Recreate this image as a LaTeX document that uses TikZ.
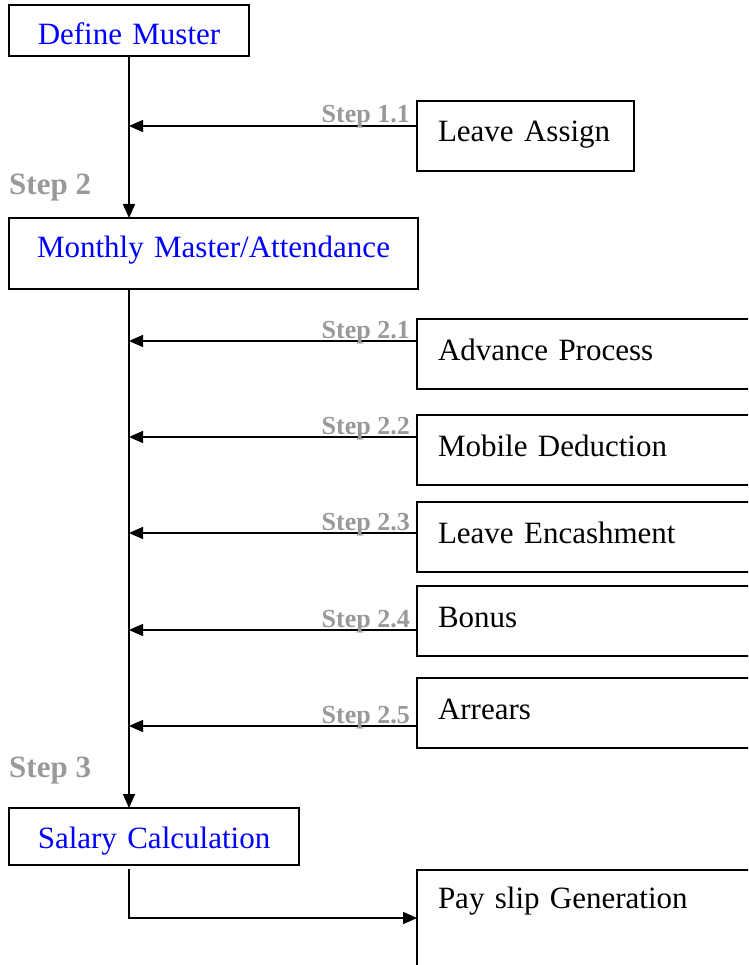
\documentclass[tikz,border=0pt]{standalone}
\usepackage{fontspec}
\setmainfont{Liberation Serif}
\usepackage{xcolor}
\usetikzlibrary{arrows.meta,positioning}
\definecolor{stepgray}{RGB}{153,153,153}
\definecolor{boxblue}{RGB}{0,0,255}

\tikzset{
  mainbox/.style={draw, line width=1.8pt, inner sep=0pt, outer sep=0pt, anchor=north west,
    text=boxblue, font=\fontsize{31}{36}\selectfont, text height=40pt, align=center},
  sidebox/.style={draw, line width=1.8pt, inner xsep=21pt, inner ysep=0pt, outer sep=0pt, anchor=north west,
    font=\fontsize{31}{36}\selectfont, text height=41pt, text depth=29pt, align=left},
  flow/.style={line width=1.6pt, -{Triangle[length=14pt,width=12pt]}},
  steplbl/.style={text=stepgray, font=\bfseries\fontsize{26}{30}\selectfont, inner sep=0pt, anchor=base east},
  stepbig/.style={text=stepgray, font=\bfseries\fontsize{31}{36}\selectfont, inner sep=0pt, anchor=base west}
}

\begin{document}
\begin{tikzpicture}[x=1pt,y=-1pt]
    \useasboundingbox (0,0) rectangle (748,965);
    \clip (0,0) rectangle (748,965);

    % main column
    \node[mainbox, text width=240pt, text depth=11pt] (muster) at (9,5) {Define Muster};
    \node[mainbox, text width=409pt, text depth=31pt] (monthly) at (9,218) {Monthly Master/Attendance};
    \node[mainbox, text width=290pt, text depth=17pt] (salary) at (9,808) {Salary Calculation};
    \coordinate (spine) at (129,0);

    \node[stepbig] (step2) at (9,195) {Step 2};
    \node[stepbig] (step3) at (9,777) {Step 3};

    \draw[flow] (muster.south -| spine) -- (monthly.north -| spine);
    \draw[flow] (monthly.south -| spine) -- (salary.north -| spine);

    % side boxes
    \node[sidebox, text width=175pt] (assign) at (417,101) {Leave Assign};
    \foreach \name/\top/\txt in {advance/319/Advance Process, mobile/415/Mobile Deduction,
        encash/502/Leave Encashment, bonus/586/Bonus, arrears/678/Arrears} {
      \node[sidebox, text width=300pt] (\name) at (417,\top) {\txt};
    }
    \node[sidebox, text width=300pt, text height=38pt, text depth=70pt] (payslip) at (417,870) {Pay slip Generation};

    \foreach \name/\arr/\lbl in {assign/126/1.1, advance/341/2.1, mobile/437/2.2,
        encash/533/2.3, bonus/630/2.4, arrears/726/2.5} {
      \coordinate (\name-in) at (129,\arr);
      \coordinate (\name-out) at (\name-in -| \name.west);
      \draw[flow] (\name-out) -- (\name-in);
      \node[steplbl] (\name-lbl) at ([shift={(-7,-3)}]\name-out) {Step \lbl};
    }

    \coordinate (payturn) at (129,918);
    \draw[flow] ([yshift=-4pt]salary.south -| spine) -- (payturn) -- (payturn -| payslip.west);
\end{tikzpicture}
\end{document}
